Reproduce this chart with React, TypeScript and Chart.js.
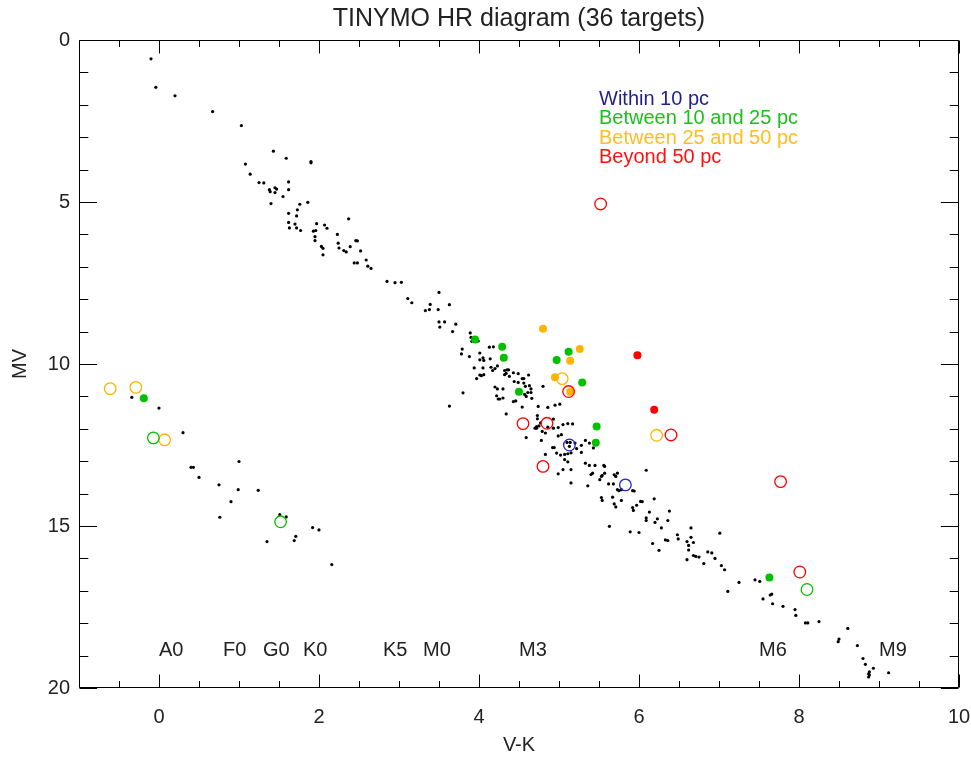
import React, { useEffect, useRef } from 'react';
import { Chart, registerables } from 'chart.js';

Chart.register(...registerables);

const FONT = "'Liberation Sans', Arial, Helvetica, sans-serif";

const TITLE = 'TINYMO HR diagram (36 targets)';
const X_TITLE = 'V-K';
const Y_TITLE = 'MV';

const xTickValues = [0, 2, 4, 6, 8, 10];
const yTickValues = [0, 5, 10, 15, 20];
const xMinorStep = 0.5;
const yMinorStep = 1;

const spectralTypes = ['A0', 'F0', 'G0', 'K0', 'K5', 'M0', 'M3', 'M6', 'M9'];
const spectralVK = [0.0, 0.8, 1.3, 1.8, 2.8, 3.3, 4.5, 7.5, 9.0];
const spectralMV = 19.0;

const legendLabels = ['Within 10 pc', 'Between 10 and 25 pc', 'Between 25 and 50 pc', 'Beyond 50 pc'];
const legendTextColors = ['#1f1f8f', '#1cc01c', '#ffbd1f', '#ff1010'];
const markerColors = ['#2323d0', '#00c000', '#ffb400', '#ff0000'];

// Field stars (V-K, MV)
const fieldStars: [number, number][] = [
  [-0.10, 0.58], [-0.04, 1.46], [0.20, 1.72], [0.67, 2.21], [1.03, 2.64], [1.43, 3.43], [1.59, 3.65],
  [1.90, 3.75], [1.90, 3.79], [1.08, 3.83], [1.14, 4.14], [1.25, 4.40], [1.31, 4.41], [1.62, 4.38],
  [1.38, 4.62], [1.39, 4.68], [1.45, 4.56], [1.47, 4.60], [1.45, 4.71], [1.62, 4.62], [1.55, 4.83],
  [1.40, 5.05], [1.86, 5.01], [1.76, 5.07], [1.73, 5.24], [1.62, 5.35], [1.72, 5.43], [1.62, 5.63],
  [1.70, 5.68], [1.63, 5.80], [1.72, 5.80], [1.77, 5.88], [1.97, 5.67], [2.07, 5.71], [2.10, 5.81],
  [1.93, 5.90], [1.96, 5.88], [1.95, 6.07], [1.95, 6.19], [2.37, 5.52], [2.23, 6.00], [2.24, 6.27],
  [2.25, 6.42], [2.03, 6.37], [2.05, 6.43], [2.05, 6.63], [2.39, 6.38], [2.31, 6.50], [2.34, 6.54],
  [2.46, 6.19], [2.48, 6.20], [2.52, 6.51], [2.44, 6.88], [2.48, 6.88], [2.59, 6.79], [2.61, 6.98],
  [2.65, 7.05], [2.85, 7.45], [2.95, 7.49], [3.03, 7.48], [3.11, 7.98], [3.16, 8.11], [3.50, 7.79],
  [3.33, 8.35], [3.38, 8.32], [3.39, 8.16], [3.49, 8.32], [3.63, 8.17], [3.50, 8.70], [3.51, 8.86],
  [3.57, 8.70], [3.71, 8.77], [3.67, 9.00], [3.79, 9.54], [3.78, 9.69], [3.88, 9.77], [3.80, 10.89],
  [3.63, 11.30],
  [3.89, 9.04], [3.90, 9.18], [3.91, 9.30], [3.99, 9.29], [4.13, 9.48], [4.18, 9.47], [4.01, 9.66],
  [4.05, 9.81], [4.06, 9.89], [4.01, 9.87], [4.14, 9.84], [3.94, 10.12], [4.05, 10.12], [4.15, 10.10],
  [4.17, 10.20], [4.20, 10.14], [4.23, 10.06], [3.97, 10.45], [4.01, 10.34], [4.03, 10.36], [4.06, 10.33],
  [4.32, 10.20], [4.35, 10.18], [4.37, 10.18], [4.43, 10.27], [4.32, 10.33], [4.34, 10.29], [4.38, 10.38],
  [4.49, 10.30], [4.54, 10.45], [4.56, 10.45], [4.62, 10.34], [4.20, 10.71], [4.23, 10.77], [4.30, 10.77],
  [4.44, 10.54], [4.49, 10.57], [4.56, 10.59], [4.58, 10.69], [4.63, 10.67], [4.65, 10.77], [4.65, 10.88],
  [4.57, 10.94], [4.59, 11.00], [4.61, 10.88], [4.22, 10.98], [4.24, 11.08], [4.26, 11.08], [4.30, 11.05],
  [4.43, 11.16], [4.46, 11.14], [4.54, 11.33], [4.66, 11.06], [4.80, 10.69], [4.74, 11.31], [4.86, 11.34],
  [4.95, 11.27], [5.01, 11.24], [4.34, 11.54], [4.59, 12.27], [4.73, 11.59], [4.73, 11.69], [4.72, 11.93],
  [4.70, 11.98], [4.72, 11.98], [4.75, 11.91], [4.77, 11.82], [4.79, 12.08], [4.83, 12.13], [4.86, 11.95],
  [4.93, 11.70], [4.93, 11.98], [4.99, 11.96], [4.99, 12.22], [5.03, 12.18], [5.05, 11.87], [5.11, 11.84],
  [5.17, 11.85], [4.78, 12.36], [4.83, 12.79], [4.92, 12.58], [4.94, 12.58], [4.97, 12.75], [5.02, 12.81],
  [5.07, 12.79], [5.11, 12.77], [5.15, 12.74], [5.07, 12.95], [5.11, 13.02], [4.99, 13.39], [5.05, 13.26],
  [5.15, 13.26], [5.15, 13.67], [5.10, 12.42], [5.13, 12.54], [5.14, 12.42], [5.20, 12.44], [5.22, 12.61],
  [5.28, 12.73], [5.28, 12.51], [5.33, 12.36], [5.38, 12.44], [5.44, 12.42], [5.43, 12.59], [5.33, 13.06],
  [5.38, 13.13], [5.40, 13.41], [5.42, 13.37], [5.45, 13.13], [5.36, 13.76], [5.51, 13.57], [5.53, 13.47],
  [5.54, 13.44], [5.56, 13.13], [5.57, 13.16], [5.57, 13.37], [5.62, 13.70], [5.68, 13.70], [5.69, 13.42],
  [5.71, 13.47], [5.73, 13.37], [5.73, 13.88], [5.75, 13.91], [5.78, 13.88], [5.53, 14.12], [5.54, 14.21],
  [5.67, 14.11], [5.69, 14.32], [5.71, 14.41], [5.78, 14.21], [5.92, 13.91], [5.94, 13.92], [5.92, 14.43],
  [5.93, 14.52], [5.97, 14.36], [6.02, 14.24], [6.04, 14.25], [6.09, 13.28], [6.19, 14.16], [6.13, 14.57],
  [6.09, 14.75], [6.09, 14.83], [6.23, 14.78], [6.20, 14.89], [6.28, 15.06], [6.36, 14.83], [6.38, 14.54],
  [5.63, 15.01],
  [6.65, 15.06], [7.01, 15.22], [6.48, 15.27], [6.49, 15.40], [6.60, 15.48], [6.62, 15.60], [6.62, 15.74],
  [6.60, 16.04], [6.65, 15.35], [6.68, 15.51], [6.68, 15.91], [6.71, 15.94], [6.75, 15.96], [6.81, 16.16],
  [6.86, 15.80], [6.91, 15.83], [6.95, 16.00], [7.03, 16.22], [7.07, 16.35], [7.25, 16.74], [7.11, 17.02],
  [7.45, 16.66], [7.51, 16.71], [6.36, 15.45], [6.25, 15.75], [6.17, 15.54], [6.33, 15.43], [6.00, 15.20],
  [5.89, 15.18],
  [7.55, 17.25], [7.64, 17.13], [7.66, 17.10], [7.67, 17.40], [7.80, 17.48], [7.95, 17.58], [7.96, 17.76],
  [8.08, 17.99], [8.11, 17.99], [8.25, 17.95], [8.49, 18.57], [8.50, 18.49], [8.61, 18.16], [8.73, 18.69],
  [8.80, 19.09], [8.83, 19.27], [8.88, 19.50], [8.87, 19.56], [8.87, 19.66], [8.88, 19.60], [8.93, 19.39],
  [9.12, 19.53],
  [-0.34, 11.03], [0.00, 11.36], [0.30, 12.12], [0.40, 13.19], [0.43, 13.19], [0.50, 13.50], [0.75, 13.73],
  [1.00, 13.01], [0.99, 13.88], [1.24, 13.90], [0.90, 14.25], [0.76, 14.73], [1.51, 14.65], [1.59, 14.72],
  [1.92, 15.05], [2.00, 15.12], [1.71, 15.32], [1.69, 15.45], [1.35, 15.48], [2.16, 16.19],
];

// TINYMO targets, by distance group: filled and open symbols
const within10Filled: [number, number][] = [];
const within10Open: [number, number][] = [[5.13, 12.50], [5.83, 13.73]];

const d10to25Filled: [number, number][] = [
  [3.95, 9.24], [4.29, 9.47], [4.31, 9.81], [4.50, 10.86], [5.12, 9.62], [4.97, 9.88],
  [5.29, 10.57], [5.47, 11.93], [5.46, 12.43], [7.63, 16.59], [-0.19, 11.06],
];
const d10to25Open: [number, number][] = [[-0.07, 12.28], [1.52, 14.87], [8.10, 16.96]];

const d25to50Filled: [number, number][] = [
  [4.80, 8.91], [5.26, 9.54], [5.14, 9.90], [4.95, 10.41], [5.14, 10.86],
];
const d25to50Open: [number, number][] = [
  [5.04, 10.45], [6.22, 12.20], [-0.61, 10.76], [-0.29, 10.72], [0.07, 12.34],
];

const beyond50Filled: [number, number][] = [[5.98, 9.73], [6.19, 11.41]];
const beyond50Open: [number, number][] = [
  [5.52, 5.06], [5.12, 10.85], [4.55, 11.84], [4.85, 11.83], [4.80, 13.16],
  [6.40, 12.19], [7.77, 13.63], [8.01, 16.42],
];

const toPts = (arr: [number, number][]) => arr.map(([x, y]) => ({ x, y }));

const framePlugin = {
  id: 'idlFrame',
  afterDraw(chart: any) {
    const { ctx, chartArea, scales } = chart;
    const { left, right, top, bottom } = chartArea;
    const xs = scales.x;
    const ys = scales.y;
    ctx.save();
    ctx.strokeStyle = '#000';
    ctx.lineWidth = 1;
    const L = Math.round(left) + 0.5;
    const R = Math.round(right) - 0.5;
    const T = Math.round(top) + 0.5;
    const B = Math.round(bottom) - 0.5;
    ctx.beginPath();
    ctx.rect(L, T, R - L, B - T);
    ctx.stroke();

    ctx.beginPath();
    const xmin = xs.min, xmax = xs.max;
    for (let v = xmin; v <= xmax + 1e-9; v += xMinorStep) {
      const px = Math.round(xs.getPixelForValue(v)) + 0.5;
      const major = xTickValues.some((t) => Math.abs(t - v) < 1e-6);
      const len = major ? 13 : 6.5;
      ctx.moveTo(px, B); ctx.lineTo(px, B - len);
      ctx.moveTo(px, T); ctx.lineTo(px, T + len);
    }
    for (let v = ys.min; v <= ys.max + 1e-9; v += yMinorStep) {
      const py = Math.round(ys.getPixelForValue(v)) + 0.5;
      const major = yTickValues.some((t) => Math.abs(t - v) < 1e-6);
      const len = major ? 17.6 : 8.8;
      ctx.moveTo(L, py); ctx.lineTo(L + len, py);
      ctx.moveTo(R, py); ctx.lineTo(R - len, py);
    }
    ctx.stroke();

    // spectral type labels
    ctx.font = `20px ${FONT}`;
    ctx.fillStyle = '#222';
    ctx.textAlign = 'left';
    ctx.textBaseline = 'alphabetic';
    spectralTypes.forEach((s, i) => {
      ctx.fillText(s, xs.getPixelForValue(spectralVK[i]), ys.getPixelForValue(spectralMV));
    });

    // legend text
    legendLabels.forEach((s, i) => {
      ctx.fillStyle = legendTextColors[i];
      ctx.fillText(s, xs.getPixelForValue(5.5), ys.getPixelForValue(2.0 + 0.6 * i));
    });
    ctx.restore();
  },
};

export default function App() {
  const canvasRef = useRef<HTMLCanvasElement | null>(null);

  useEffect(() => {
    const canvas = canvasRef.current;
    if (!canvas) return;
    const filled = (data: [number, number][], color: string) => ({
      data: toPts(data),
      pointRadius: 4,
      pointBackgroundColor: color,
      pointBorderWidth: 0,
      pointBorderColor: color,
      showLine: false,
      order: 1,
    });
    const open = (data: [number, number][], color: string) => ({
      data: toPts(data),
      pointRadius: 5.8,
      pointBackgroundColor: 'rgba(0,0,0,0)',
      pointBorderColor: color,
      pointBorderWidth: 1.3,
      showLine: false,
      order: 0,
    });
    const chart = new Chart(canvas, {
      type: 'scatter',
      data: {
        datasets: [
          open(within10Open, markerColors[0]),
          filled(within10Filled, markerColors[0]),
          open(d10to25Open, markerColors[1]),
          filled(d10to25Filled, markerColors[1]),
          open(d25to50Open, markerColors[2]),
          filled(d25to50Filled, markerColors[2]),
          open(beyond50Open, markerColors[3]),
          filled(beyond50Filled, markerColors[3]),
          {
            data: toPts(fieldStars),
            pointRadius: 1.6,
            pointBackgroundColor: '#000',
            pointBorderWidth: 0,
            showLine: false,
            order: 10,
          },
        ] as any,
      },
      options: {
        animation: false,
        responsive: false,
        devicePixelRatio: 1,
        layout: { padding: { left: 0, right: 12, top: 0, bottom: 0 } },
        plugins: {
          legend: { display: false },
          tooltip: { enabled: false },
          title: {
            display: true,
            text: TITLE,
            color: '#222',
            fullSize: false,
            font: { family: FONT, size: 25, weight: 'normal', lineHeight: 1.2 },
            padding: { top: 4, bottom: 6 },
          },
        },
        scales: {
          x: {
            type: 'linear',
            min: -1,
            max: 10,
            afterBuildTicks: (s: any) => {
              s.ticks = xTickValues.map((v) => ({ value: v }));
            },
            afterFit: (s: any) => {
              s.height = 71;
              s.paddingLeft = 0;
              s.paddingRight = 0;
            },
            grid: { display: false, drawTicks: false },
            border: { display: false },
            ticks: {
              color: '#222',
              font: { family: FONT, size: 20 },
              padding: 17,
              maxRotation: 0,
              autoSkip: false,
            },
            title: {
              display: true,
              text: X_TITLE,
              color: '#222',
              font: { family: FONT, size: 20 },
              padding: { top: 0, bottom: 2 },
            },
          },
          y: {
            type: 'linear',
            reverse: true,
            min: 0,
            max: 20,
            afterBuildTicks: (s: any) => {
              s.ticks = yTickValues.map((v) => ({ value: v }));
            },
            afterFit: (s: any) => {
              s.width = 79;
              s.paddingTop = 0;
              s.paddingBottom = 0;
            },
            grid: { display: false, drawTicks: false },
            border: { display: false },
            ticks: {
              color: '#222',
              font: { family: FONT, size: 20 },
              padding: 9,
              autoSkip: false,
            },
            title: {
              display: true,
              text: Y_TITLE,
              color: '#222',
              font: { family: FONT, size: 20 },
              padding: { top: 8, bottom: 0 },
            },
          },
        },
      } as any,
      plugins: [framePlugin],
    });
    return () => chart.destroy();
  }, []);

  return (
    <div style={{ position: 'absolute', left: 0, top: 0, width: 971, height: 759, background: '#fff' }}>
      <canvas ref={canvasRef} width={971} height={759} style={{ width: 971, height: 759, display: 'block' }} />
    </div>
  );
}
